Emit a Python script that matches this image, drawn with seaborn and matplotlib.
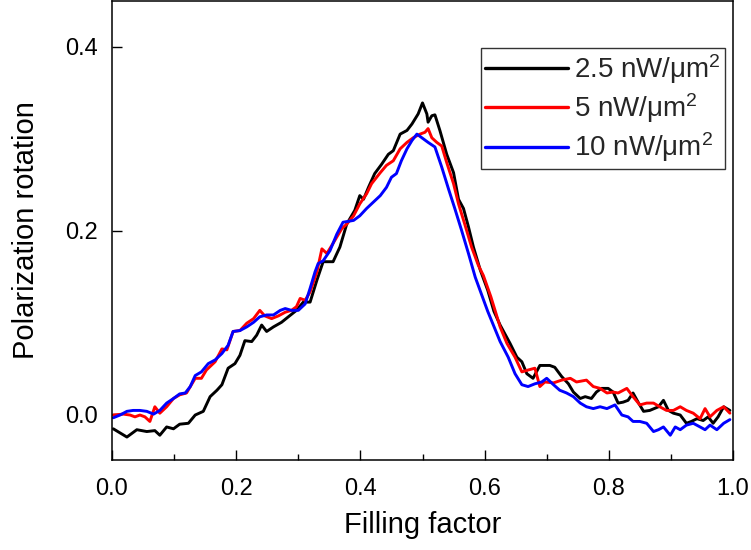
import numpy as np
import pandas as pd
import matplotlib
matplotlib.use("Agg")
import matplotlib.pyplot as plt
from matplotlib.ticker import MultipleLocator
import seaborn as sns

# ---------------- data ----------------
series_labels = ["2.5 nW/\u03bcm$^{2}$", "5 nW/\u03bcm$^{2}$", "10 nW/\u03bcm$^{2}$"]
series_colors = ["#000000", "#ff0000", "#0000ff"]

x_black = [0.002, 0.024, 0.040, 0.056, 0.069, 0.077, 0.088, 0.099, 0.109, 0.123, 0.134, 0.147,
           0.158, 0.169, 0.177, 0.187, 0.198, 0.206, 0.214, 0.225, 0.233, 0.241, 0.249, 0.260,
           0.273, 0.284, 0.297, 0.308, 0.319, 0.330, 0.340, 0.351, 0.356, 0.367, 0.378, 0.391,
           0.399, 0.405, 0.413, 0.423, 0.434, 0.445, 0.453, 0.464, 0.475, 0.483, 0.493, 0.500,
           0.507, 0.509, 0.515, 0.520, 0.528, 0.539, 0.550, 0.558, 0.566, 0.574, 0.582, 0.593,
           0.605, 0.615, 0.625, 0.641, 0.652, 0.660, 0.668, 0.678, 0.689, 0.705, 0.713, 0.724,
           0.735, 0.743, 0.754, 0.762, 0.772, 0.780, 0.788, 0.799, 0.807, 0.815, 0.823, 0.831,
           0.839, 0.848, 0.856, 0.866, 0.880, 0.888, 0.896, 0.904, 0.915, 0.925, 0.933, 0.942,
           0.952, 0.960, 0.968, 0.976, 0.985, 0.995]
y_black = [-0.016, -0.025, -0.017, -0.019, -0.018, -0.023, -0.014, -0.016, -0.011, -0.010, -0.001, 0.003,
           0.019, 0.026, 0.032, 0.050, 0.055, 0.064, 0.080, 0.079, 0.086, 0.097, 0.090, 0.095,
           0.100, 0.106, 0.113, 0.122, 0.122, 0.146, 0.166, 0.166, 0.166, 0.182, 0.207, 0.222,
           0.238, 0.234, 0.247, 0.262, 0.272, 0.283, 0.287, 0.305, 0.309, 0.316, 0.327, 0.339,
           0.327, 0.318, 0.325, 0.326, 0.309, 0.283, 0.263, 0.234, 0.224, 0.204, 0.182, 0.157,
           0.135, 0.112, 0.097, 0.077, 0.062, 0.057, 0.044, 0.039, 0.053, 0.053, 0.051, 0.041,
           0.033, 0.024, 0.017, 0.019, 0.017, 0.024, 0.028, 0.028, 0.024, 0.012, 0.013, 0.015,
           0.023, 0.012, 0.003, 0.004, 0.008, 0.015, 0.004, 0.001, -0.001, -0.010, -0.008, -0.005,
           -0.007, -0.003, -0.010, -0.003, 0.008, 0.004]

x_red = [0.002, 0.018, 0.029, 0.037, 0.045, 0.053, 0.061, 0.069, 0.077, 0.088, 0.099, 0.109,
         0.120, 0.134, 0.144, 0.152, 0.166, 0.177, 0.185, 0.195, 0.206, 0.217, 0.228, 0.238,
         0.246, 0.257, 0.268, 0.279, 0.289, 0.297, 0.303, 0.311, 0.319, 0.330, 0.338, 0.346,
         0.356, 0.370, 0.378, 0.389, 0.399, 0.410, 0.418, 0.432, 0.442, 0.453, 0.464, 0.475,
         0.485, 0.496, 0.504, 0.509, 0.515, 0.523, 0.531, 0.539, 0.550, 0.558, 0.568, 0.579,
         0.590, 0.598, 0.610, 0.625, 0.636, 0.649, 0.660, 0.670, 0.681, 0.689, 0.697, 0.711,
         0.724, 0.738, 0.748, 0.764, 0.775, 0.786, 0.797, 0.807, 0.815, 0.829, 0.839, 0.850,
         0.861, 0.872, 0.882, 0.893, 0.904, 0.915, 0.925, 0.936, 0.947, 0.955, 0.963, 0.974,
         0.985, 0.995]
y_red = [-0.001, 0.000, -0.001, -0.003, -0.001, -0.003, -0.008, 0.008, 0.001, 0.008, 0.017, 0.021,
         0.023, 0.039, 0.039, 0.048, 0.057, 0.071, 0.070, 0.090, 0.091, 0.099, 0.104, 0.113,
         0.107, 0.104, 0.107, 0.111, 0.113, 0.117, 0.126, 0.124, 0.133, 0.155, 0.180, 0.175,
         0.186, 0.202, 0.207, 0.216, 0.229, 0.240, 0.251, 0.263, 0.271, 0.276, 0.289, 0.296,
         0.301, 0.305, 0.307, 0.311, 0.301, 0.296, 0.292, 0.274, 0.251, 0.229, 0.207, 0.182,
         0.162, 0.151, 0.128, 0.095, 0.077, 0.062, 0.046, 0.048, 0.050, 0.030, 0.035, 0.034,
         0.037, 0.039, 0.035, 0.037, 0.030, 0.028, 0.023, 0.024, 0.023, 0.028, 0.019, 0.010,
         0.012, 0.012, 0.008, 0.004, 0.004, 0.008, 0.004, 0.001, -0.005, 0.006, -0.003, 0.004,
         0.008, 0.001]

x_blue = [0.002, 0.013, 0.024, 0.034, 0.045, 0.056, 0.067, 0.077, 0.088, 0.099, 0.109, 0.118,
          0.126, 0.134, 0.144, 0.155, 0.166, 0.177, 0.187, 0.195, 0.206, 0.217, 0.228, 0.238,
          0.249, 0.260, 0.271, 0.279, 0.289, 0.300, 0.311, 0.319, 0.327, 0.332, 0.340, 0.351,
          0.362, 0.372, 0.389, 0.399, 0.410, 0.421, 0.432, 0.442, 0.450, 0.458, 0.466, 0.475,
          0.483, 0.491, 0.499, 0.509, 0.520, 0.531, 0.542, 0.552, 0.563, 0.574, 0.585, 0.605,
          0.625, 0.638, 0.649, 0.660, 0.670, 0.681, 0.692, 0.700, 0.711, 0.721, 0.732, 0.743,
          0.754, 0.764, 0.775, 0.786, 0.797, 0.810, 0.821, 0.831, 0.839, 0.850, 0.861, 0.872,
          0.880, 0.888, 0.899, 0.907, 0.915, 0.925, 0.936, 0.947, 0.955, 0.963, 0.974, 0.985,
          0.995]
y_blue = [-0.004, -0.001, 0.003, 0.004, 0.004, 0.003, 0.000, 0.004, 0.012, 0.017, 0.022, 0.023,
          0.030, 0.042, 0.046, 0.055, 0.059, 0.066, 0.075, 0.090, 0.091, 0.095, 0.100, 0.106,
          0.108, 0.108, 0.113, 0.115, 0.113, 0.113, 0.120, 0.137, 0.155, 0.164, 0.167, 0.178,
          0.196, 0.209, 0.211, 0.216, 0.224, 0.231, 0.238, 0.247, 0.258, 0.262, 0.276, 0.289,
          0.298, 0.305, 0.301, 0.296, 0.291, 0.269, 0.245, 0.224, 0.200, 0.175, 0.149, 0.112,
          0.079, 0.062, 0.044, 0.032, 0.030, 0.033, 0.035, 0.039, 0.032, 0.026, 0.023, 0.019,
          0.012, 0.008, 0.006, 0.008, 0.006, 0.010, -0.001, -0.003, -0.008, -0.008, -0.010, -0.019,
          -0.017, -0.014, -0.023, -0.014, -0.017, -0.012, -0.010, -0.014, -0.017, -0.012, -0.017, -0.010,
          -0.006]

x_ticks = [0.0, 0.2, 0.4, 0.6, 0.8, 1.0]
y_ticks = [0.0, 0.2, 0.4]
x_label = "Filling factor"
y_label = "Polarization rotation"

# ---------------- build table ----------------
frames = []
for lab, xs, ys in zip(series_labels,
                       [x_black, x_red, x_blue],
                       [y_black, y_red, y_blue]):
    frames.append(pd.DataFrame({"x": xs, "y": ys, "series": lab}))
df = pd.concat(frames, ignore_index=True)

# ---------------- style ----------------
sns.set_theme(style="ticks")
plt.rcParams["font.family"] = ["Liberation Sans", "DejaVu Sans"]
plt.rcParams["mathtext.fontset"] = "custom"
plt.rcParams["mathtext.rm"] = "Liberation Sans"
plt.rcParams["mathtext.it"] = "Liberation Sans:italic"
plt.rcParams["mathtext.bf"] = "Liberation Sans:bold"
plt.rcParams["mathtext.default"] = "regular"

fig = plt.figure(figsize=(7.51, 5.5), dpi=100)
ax = fig.add_axes([112 / 751, 90 / 550, (733 - 112) / 751, 459 / 550])

sns.lineplot(data=df, x="x", y="y", hue="series", hue_order=series_labels,
             palette=dict(zip(series_labels, series_colors)),
             estimator=None, sort=False, linewidth=2.1, ax=ax)

ax.set_xlim(0.0, 1.0)
ax.set_ylim(-0.05, 0.45)
ax.set_xticks(x_ticks)
ax.set_yticks(y_ticks)
ax.set_xticklabels([f"{v:.1f}" for v in x_ticks])
ax.set_yticklabels([f"{v:.1f}" for v in y_ticks])
ax.xaxis.set_minor_locator(MultipleLocator(0.1))

ax.tick_params(axis="both", which="major", direction="in", length=7, width=1.0,
               labelsize=17, color="black", labelcolor="black",
               top=False, right=False)
ax.tick_params(axis="x", which="major", pad=13)
ax.tick_params(axis="y", which="major", pad=10)
ax.tick_params(axis="x", which="minor", direction="in", length=4.5, width=1.0,
               color="black", top=False)
for s in ax.spines.values():
    s.set_visible(True)
    s.set_color("black")
    s.set_linewidth(1.1)

ax.set_xlabel(x_label, fontsize=21, labelpad=8, color="black")
ax.set_ylabel(y_label, fontsize=21, labelpad=18, color="black")

leg = ax.legend(loc="upper right", bbox_to_anchor=(0.987, 0.898),
                fontsize=20, frameon=True, fancybox=False,
                handlelength=3.0, handletextpad=0.2, borderpad=0.15,
                labelspacing=0.2, borderaxespad=0.0)
leg.get_frame().set_edgecolor("black")
leg.get_frame().set_linewidth(1.0)
for line in leg.get_lines():
    line.set_linewidth(2.4)
leg.set_title(None)

fig.savefig("out.png", dpi=100)
